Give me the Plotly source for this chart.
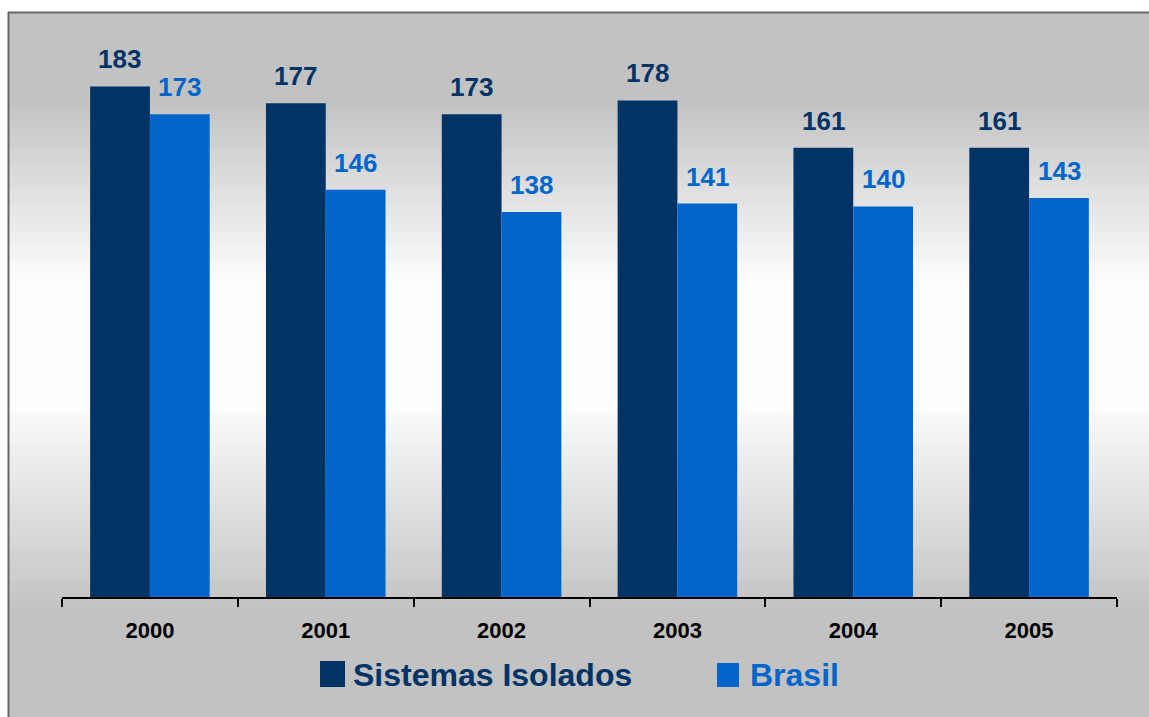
import plotly.graph_objects as go

# ---- data ----
years = ["2000", "2001", "2002", "2003", "2004", "2005"]
sistemas_isolados = [183, 177, 173, 178, 161, 161]
brasil = [173, 146, 138, 141, 140, 143]
series_names = ["Sistemas Isolados", "Brasil"]

# ---- style ----
W, H = 1149, 717
ML, MR, MT, MB = 62, 32, 39, 120
PW, PH = W - ML - MR, H - MT - MB
DARK = "#003366"
BLUE = "#0066CC"
FONT = "Liberation Sans, Arial, sans-serif"


def px_x(p):
    return (p - ML) / PW


def px_y(p):
    return (H - MB - p) / PH


def grey_at(t):
    lo, hi = 194, 253
    if t < 0.12:
        v = lo
    elif t < 0.38:
        v = lo + (hi - lo) * (t - 0.12) / 0.26
    elif t < 0.55:
        v = hi
    elif t < 0.85:
        v = hi - (hi - lo) * (t - 0.55) / 0.30
    else:
        v = lo
    v = int(round(v))
    return f"rgb({v},{v},{v})"


fig = go.Figure()
fig.add_trace(go.Bar(x=years, y=sistemas_isolados, name=series_names[0],
                     marker=dict(color=DARK, line=dict(width=0)), showlegend=False))
fig.add_trace(go.Bar(x=years, y=brasil, name=series_names[1],
                     marker=dict(color=BLUE, line=dict(width=0)), showlegend=False))

shapes = []
# background gradient strips
top, bottom, left = 13, H, 9
step = 4
p = top
while p < bottom:
    t = (p - top) / (bottom - top)
    shapes.append(dict(type="rect", xref="paper", yref="paper",
                       x0=px_x(left), x1=px_x(W + 2), y0=px_y(p + step + 0.5), y1=px_y(p),
                       fillcolor=grey_at(t), line=dict(width=0), layer="below"))
    p += step
# frame lines (left and top)
shapes.append(dict(type="line", xref="paper", yref="paper",
                   x0=px_x(8.5), x1=px_x(8.5), y0=px_y(H + 2), y1=px_y(12),
                   line=dict(color="#666666", width=2), layer="below"))
shapes.append(dict(type="line", xref="paper", yref="paper",
                   x0=px_x(8), x1=px_x(W + 2), y0=px_y(12.5), y1=px_y(12.5),
                   line=dict(color="#666666", width=2), layer="below"))

annotations = []
for i, yr in enumerate(years):
    annotations.append(dict(x=i, y=sistemas_isolados[i], xref="x", yref="y",
                            text=str(sistemas_isolados[i]), showarrow=False,
                            xanchor="center", yanchor="bottom", xshift=-30, yshift=10,
                            font=dict(family=FONT, size=26, color=DARK, weight="bold")))
    annotations.append(dict(x=i, y=brasil[i], xref="x", yref="y",
                            text=str(brasil[i]), showarrow=False,
                            xanchor="center", yanchor="bottom", xshift=30, yshift=10,
                            font=dict(family=FONT, size=26, color=BLUE, weight="bold")))

# custom legend
legend_items = [(series_names[0], DARK, 320, 345, 661, 687, 351),
                (series_names[1], BLUE, 717, 739, 663, 687, 748)]
for name, col, x0, x1, y0, y1, tx in legend_items:
    shapes.append(dict(type="rect", xref="paper", yref="paper",
                       x0=px_x(x0), x1=px_x(x1), y0=px_y(y1), y1=px_y(y0),
                       fillcolor=col, line=dict(width=0)))
    annotations.append(dict(x=px_x(tx), y=px_y(675), xref="paper", yref="paper",
                            text=name, showarrow=False, xanchor="left", yanchor="middle",
                            font=dict(family=FONT, size=32, color=col, weight="bold")))

fig.update_layout(
    width=W, height=H,
    margin=dict(l=ML, r=MR, t=MT, b=MB),
    paper_bgcolor="white", plot_bgcolor="rgba(0,0,0,0)",
    barmode="group", bargap=0.32, bargroupgap=0,
    shapes=shapes, annotations=annotations,
    showlegend=False,
    xaxis=dict(type="category", range=[-0.5, 5.5], tickson="boundaries", ticks="outside",
               ticklen=8, tickwidth=2, tickcolor="black", showline=True, linecolor="black",
               linewidth=2, showgrid=False, zeroline=False, ticklabelstandoff=13,
               tickangle=0,
               tickfont=dict(family=FONT, size=22, color="black", weight="bold")),
    yaxis=dict(range=[0, 200], visible=False, showgrid=False, zeroline=False),
)

fig.write_html("out.html", config={"displayModeBar": False},
               post_script="document.body.style.margin='0';document.body.style.overflow='hidden';")
